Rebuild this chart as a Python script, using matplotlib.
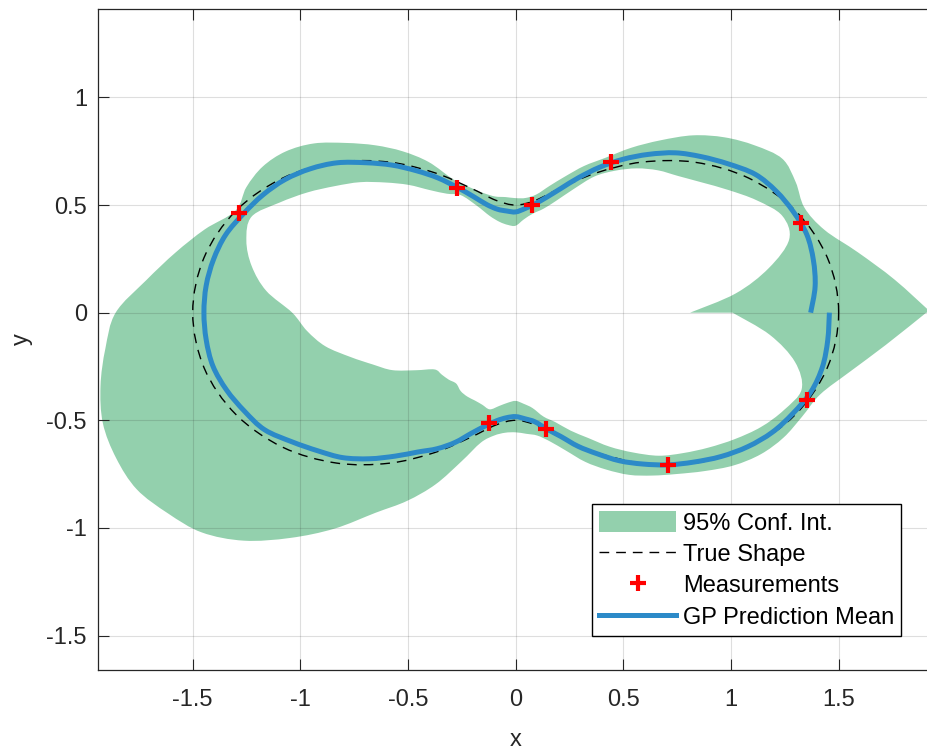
import numpy as np
import matplotlib
matplotlib.use("Agg")
import matplotlib.pyplot as plt
from matplotlib.path import Path
from matplotlib.patches import PathPatch, Patch
from matplotlib.lines import Line2D

plt.rcParams["font.family"] = ["Liberation Sans", "DejaVu Sans"]

# polar sample grid (degrees) for the GP output
angles_deg = np.arange(0, 361, 5)

# GP prediction mean radius at each angle
mean_r = [1.370, 1.396, 1.404, 1.400, 1.372, 1.335, 1.285, 1.205, 1.127, 1.050,
          0.960, 0.870, 0.780, 0.692, 0.614, 0.555, 0.513, 0.485, 0.468, 0.474,
          0.488, 0.520, 0.574, 0.642, 0.723, 0.805, 0.895, 0.985, 1.083, 1.165,
          1.237, 1.295, 1.345, 1.395, 1.425, 1.443, 1.448, 1.443, 1.428, 1.390,
          1.340, 1.287, 1.200, 1.120, 1.048, 0.960, 0.870, 0.790, 0.730, 0.665,
          0.595, 0.545, 0.510, 0.490, 0.483, 0.495, 0.515, 0.560, 0.612, 0.685,
          0.757, 0.840, 0.918, 1.000, 1.080, 1.165, 1.245, 1.315, 1.370, 1.420,
          1.447, 1.455, 1.457]

# half width of the 95% confidence interval (radial)
ci_half = [0.560, 0.370, 0.210, 0.085, 0.055, 0.100, 0.145, 0.150, 0.140, 0.115,
           0.085, 0.065, 0.050, 0.060, 0.060, 0.055, 0.045, 0.050, 0.064, 0.065,
           0.060, 0.055, 0.045, 0.040, 0.085, 0.110, 0.120, 0.130, 0.140, 0.140,
           0.120, 0.085, 0.040, 0.100, 0.180, 0.280, 0.410, 0.470, 0.530, 0.595,
           0.635, 0.655, 0.665, 0.660, 0.600, 0.520, 0.440, 0.345, 0.280, 0.215,
           0.140, 0.080, 0.070, 0.070, 0.073, 0.070, 0.065, 0.060, 0.070, 0.080,
           0.085, 0.080, 0.070, 0.060, 0.065, 0.072, 0.070, 0.058, 0.045, 0.045,
           0.130, 0.270, 0.450]

# true shape radius, sampled every 10 degrees
true_deg = np.arange(0, 361, 10)
true_r = [1.500, 1.470, 1.383, 1.250, 1.087, 0.913, 0.750, 0.617, 0.530, 0.500,
          0.530, 0.617, 0.750, 0.913, 1.087, 1.250, 1.383, 1.470, 1.500, 1.470,
          1.383, 1.250, 1.087, 0.913, 0.750, 0.617, 0.530, 0.500, 0.530, 0.617,
          0.750, 0.913, 1.087, 1.250, 1.383, 1.470, 1.500]

# noisy contour measurements
meas_x = [1.324, 0.441, 0.077, -0.273, -1.284, -0.124, 0.139, 0.709, 1.352]
meas_y = [0.416, 0.700, 0.501, 0.579, 0.462, -0.512, -0.540, -0.710, -0.406]


def polar_xy(deg, r):
    t = np.deg2rad(np.asarray(deg, dtype=float))
    r = np.asarray(r, dtype=float)
    return np.column_stack([r * np.cos(t), r * np.sin(t)])


def smooth_segments(pts, closed=False):
    """Cubic bezier (Catmull-Rom) vertices/codes through pts, without MOVETO."""
    n = len(pts)
    verts, codes = [], []
    for i in range(n - 1):
        if closed:
            p0 = pts[i - 1] if i > 0 else pts[-2]
            p3 = pts[i + 2] if i + 2 < n else pts[1]
        else:
            p0 = pts[max(i - 1, 0)]
            p3 = pts[min(i + 2, n - 1)]
        p1, p2 = pts[i], pts[i + 1]
        verts += [p1 + (p2 - p0) / 6.0, p2 - (p3 - p1) / 6.0, p2]
        codes += [Path.CURVE4] * 3
    return verts, codes


def smooth_path(pts, closed=False):
    v, c = smooth_segments(pts, closed)
    return Path([pts[0]] + v, [Path.MOVETO] + c)


mean_arr = np.asarray(mean_r)
half_arr = np.asarray(ci_half)
outer = polar_xy(angles_deg, mean_arr + half_arr)
inner = polar_xy(angles_deg, mean_arr - half_arr)[::-1]
mean_pts = polar_xy(angles_deg, mean_arr)
true_pts = polar_xy(true_deg, true_r)

# confidence band: outer curve, straight join, inner curve back, close
vo, co = smooth_segments(outer)
vi, ci = smooth_segments(inner)
band_verts = [outer[0]] + vo + [inner[0]] + vi + [outer[0], outer[0]]
band_codes = [Path.MOVETO] + co + [Path.LINETO] + ci + [Path.LINETO, Path.CLOSEPOLY]
band_path = Path(band_verts, band_codes)

dark = "#262626"
green = "#93d0ad"
blue = "#2c8ac8"

fig = plt.figure(figsize=(9.28, 7.51), dpi=100)
ax = fig.add_axes([0.1056, 0.1079, 0.9002, 0.8802])

ax.add_patch(PathPatch(band_path, facecolor=green, edgecolor="none", lw=0, zorder=1))
ax.add_patch(PathPatch(smooth_path(true_pts, closed=True), fill=False,
                       edgecolor="black", lw=1.0, linestyle=(0, (7, 5)), zorder=3))
ax.plot(meas_x, meas_y, ls="none", marker="+", ms=12, mew=3.0,
        color="red", zorder=5)
ax.add_patch(PathPatch(smooth_path(mean_pts), fill=False, edgecolor=blue,
                       lw=3.6, capstyle="butt", zorder=4))

ticks = [-1.5, -1, -0.5, 0, 0.5, 1, 1.5]
tick_labels = ["-1.5", "-1", "-0.5", "0", "0.5", "1", "1.5"]
ax.set_xticks(ticks)
ax.set_xticklabels(tick_labels)
ax.set_yticks(ticks)
ax.set_yticklabels(tick_labels)
ax.set_xlim(-1.94, 1.94)
ax.set_ylim(-1.66, 1.411)
ax.tick_params(direction="in", length=8, width=0.8, colors=dark,
               labelsize=17, top=True)
ax.tick_params(axis="x", pad=14)
ax.tick_params(axis="y", pad=8)
for side in ax.spines.values():
    side.set_color(dark)
    side.set_linewidth(0.9)

ax.set_axisbelow(False)
ax.grid(True, color=dark, alpha=0.15, lw=0.8)

ax.set_xlabel("x", fontsize=17, color=dark, labelpad=13)
ax.set_ylabel("y", fontsize=17, color=dark, labelpad=10)

handles = [
    Patch(facecolor=green, edgecolor="none"),
    Line2D([], [], color="black", lw=1.0, linestyle=(0, (7, 5))),
    Line2D([], [], ls="none", marker="+", ms=12, mew=3.0, color="red"),
    Line2D([], [], color=blue, lw=3.6),
]
labels = ["95% Conf. Int.", "True Shape", "Measurements", "GP Prediction Mean"]
leg = ax.legend(handles, labels, loc="lower right",
                bbox_to_anchor=(901.3 / 928, 115 / 751),
                bbox_transform=fig.transFigure, borderaxespad=0,
                fontsize=17, handlelength=3.25, handleheight=1.0,
                handletextpad=0.3, borderpad=0.3, labelspacing=0.33,
                numpoints=1, fancybox=False, framealpha=1, edgecolor="black")
leg.get_frame().set_linewidth(1.0)
for t in leg.get_texts():
    t.set_color("black")

fig.savefig("out.png", dpi=100)
